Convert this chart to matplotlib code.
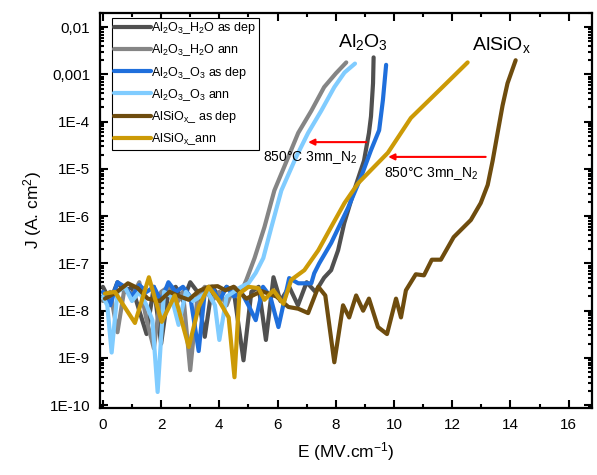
import matplotlib
matplotlib.use("Agg")
import matplotlib.pyplot as plt
from matplotlib.ticker import FixedLocator, FixedFormatter, LogLocator, MultipleLocator, NullFormatter

plt.rcParams['font.family'] = ['Liberation Sans', 'DejaVu Sans']
plt.rcParams['mathtext.fontset'] = 'custom'
plt.rcParams['mathtext.rm'] = 'Liberation Sans'
plt.rcParams['mathtext.it'] = 'Liberation Sans'

# ---- data (E in MV/cm, J in A/cm2) ----
E_h2o_dep = [0, 0.25, 0.5, 0.75, 1.0, 1.25, 1.5, 1.75, 2.0, 2.25, 2.5, 2.75, 3.0, 3.25, 3.5, 3.75, 4.0, 4.25,
             4.5, 4.83, 5.1, 5.35, 5.6, 5.86, 6.1, 6.4, 6.7, 7.0, 7.3, 7.6, 7.84, 8.08, 8.29, 8.63, 8.97, 9.14,
             9.21, 9.28, 9.30]
J_h2o_dep = [3.2e-8, 1.6e-8, 4.0e-8, 2.5e-8, 3.2e-8, 1.0e-8, 3.2e-9, 3.2e-8, 2.0e-9, 2.5e-8, 3.2e-8, 1.6e-8,
             4.0e-8, 2.5e-8, 2.8e-9, 3.2e-8, 2.0e-8, 3.2e-8, 2.5e-8, 8.9e-10, 2.5e-8, 3.2e-8, 2.4e-9, 5.1e-8,
             1.6e-8, 3.2e-8, 1.3e-8, 4.0e-8, 2.5e-8, 5.0e-8, 7.2e-8, 1.9e-7, 7.1e-7, 3.5e-6, 1.5e-5, 5.8e-5,
             1.3e-4, 6.5e-4, 2.3e-3]

E_h2o_ann = [0, 0.25, 0.5, 0.75, 1.0, 1.25, 1.5, 1.75, 2.0, 2.25, 2.5, 2.75, 3.0, 3.25, 3.5, 3.75, 4.0, 4.25,
             4.5, 4.75, 4.93, 5.21, 5.55, 5.89, 6.37, 6.71, 7.16, 7.60, 8.0, 8.36]
J_h2o_ann = [1.6e-8, 2.5e-8, 3.5e-9, 3.2e-8, 2.0e-8, 4.0e-8, 6.3e-9, 1.6e-9, 2.5e-8, 3.2e-8, 1.3e-8, 2.5e-8,
             5.5e-10, 2.0e-8, 3.2e-8, 1.6e-8, 2.5e-8, 1.3e-8, 3.2e-8, 2.5e-8, 4.5e-8, 1.3e-7, 5.9e-7, 3.5e-6,
             1.8e-5, 5.8e-5, 1.7e-4, 5.4e-4, 1.05e-3, 1.8e-3]

E_o3_dep = [0, 0.25, 0.5, 0.75, 1.0, 1.25, 1.5, 1.75, 2.0, 2.25, 2.5, 2.75, 3.0, 3.29, 3.5, 3.75, 4.0, 4.25,
            4.5, 4.75, 5.0, 5.25, 5.5, 5.75, 6.03, 6.40, 6.71, 7.16, 7.26, 7.43, 7.84, 8.42, 8.87, 9.21, 9.49,
            9.62, 9.73]
J_o3_dep = [2.5e-8, 1.3e-8, 4.0e-8, 3.2e-8, 2.0e-8, 3.5e-8, 2.5e-8, 3.2e-8, 1.6e-8, 4.0e-8, 2.5e-8, 3.2e-8,
            2.0e-8, 1.4e-9, 2.5e-8, 3.2e-8, 1.6e-8, 3.2e-8, 2.0e-8, 2.5e-8, 1.3e-8, 6.3e-9, 3.2e-8, 2.0e-8,
            4.5e-9, 4.9e-8, 3.8e-8, 3.8e-8, 6.2e-8, 1.0e-7, 2.7e-7, 1.5e-6, 6.8e-6, 2.5e-5, 6.6e-5, 2.9e-4,
            1.6e-3]

E_o3_ann = [0, 0.15, 0.3, 0.5, 0.75, 1.0, 1.25, 1.5, 1.7, 1.88, 2.1, 2.35, 2.6, 2.85, 3.1, 3.35, 3.6, 3.85,
            4.0, 4.25, 4.5, 4.75, 5.0, 5.25, 5.51, 5.79, 6.13, 6.64, 7.05, 7.5, 7.95, 8.3, 8.66]
J_o3_ann = [2.0e-8, 1.3e-8, 1.3e-9, 2.5e-8, 3.2e-8, 1.6e-8, 2.5e-8, 1.3e-8, 6.3e-9, 1.9e-10, 2.5e-8, 2.0e-8,
            5.0e-9, 2.5e-8, 1.6e-8, 2.0e-8, 2.5e-8, 1.3e-8, 2.4e-9, 2.0e-8, 2.5e-8, 3.2e-8, 3.8e-8, 6.3e-8,
            1.3e-7, 5.9e-7, 3.5e-6, 1.8e-5, 5.8e-5, 1.7e-4, 5.4e-4, 1.1e-3, 1.7e-3]

E_alsio_dep = [0.07, 0.48, 0.86, 1.2, 1.54, 1.95, 2.29, 2.64, 2.95, 3.29, 3.63, 3.94, 4.21, 4.49, 4.93, 5.45,
               5.96, 6.37, 6.71, 7.05, 7.40, 7.64, 7.95, 8.25, 8.46, 8.70, 8.94, 9.14, 9.45, 9.76, 10.07, 10.24,
               10.41, 10.75, 11.03, 11.30, 11.61, 12.05, 12.64, 12.98, 13.22, 13.39, 13.56, 13.73, 13.90, 14.18]
J_alsio_dep = [1.8e-8, 2.5e-8, 3.8e-8, 3.0e-8, 1.8e-8, 1.6e-8, 2.5e-8, 2.0e-8, 1.7e-8, 2.6e-8, 3.2e-8, 3.3e-8,
               2.7e-8, 3.2e-8, 1.8e-8, 2.6e-8, 2.0e-8, 1.2e-8, 1.1e-8, 8.9e-9, 3.2e-8, 2.1e-8, 8.1e-10, 1.3e-8,
               7.2e-9, 2.1e-8, 1.0e-8, 1.8e-8, 4.5e-9, 3.2e-9, 1.8e-8, 7.2e-9, 2.7e-8, 5.9e-8, 5.6e-8, 1.2e-7,
               1.2e-7, 3.6e-7, 8.3e-7, 1.9e-6, 4.6e-6, 1.5e-5, 5.8e-5, 2.2e-4, 6.5e-4, 2.0e-3]

E_alsio_ann = [0.07, 0.41, 1.10, 1.58, 2.02, 2.47, 2.95, 3.29, 3.63, 3.97, 4.32, 4.52, 4.69, 5.0, 5.34, 5.55,
               5.86, 6.2, 6.47, 6.92, 7.40, 7.84, 8.30, 8.77, 9.28, 9.79, 10.58, 11.61, 12.53]
J_alsio_ann = [2.3e-8, 2.5e-8, 5.5e-9, 5.1e-8, 5.8e-9, 2.1e-8, 1.7e-9, 1.2e-8, 3.2e-8, 1.7e-8, 7.2e-9, 3.9e-10,
               2.3e-8, 3.2e-8, 3.0e-8, 1.7e-8, 2.7e-8, 1.4e-8, 4.5e-8, 7.2e-8, 1.9e-7, 5.9e-7, 1.9e-6, 5.0e-6,
               1.05e-5, 2.2e-5, 1.2e-4, 5.0e-4, 1.8e-3]

labels = [r"Al$_2$O$_3$_H$_2$O as dep", r"Al$_2$O$_3$_H$_2$O ann", r"Al$_2$O$_3$_O$_3$ as dep",
          r"Al$_2$O$_3$_O$_3$ ann", r"AlSiO$_x$_ as dep", r"AlSiO$_x$_ann"]
colors = ["#505050", "#858585", "#1f6fdc", "#80ccff", "#6e4c0e", "#cc9a06"]

y_ticks = [1e-10, 1e-9, 1e-8, 1e-7, 1e-6, 1e-5, 1e-4, 1e-3, 1e-2]
y_ticklabels = ["1E-10", "1E-9", "1E-8", "1E-7", "1E-6", "1E-5", "1E-4", "0,001", "0,01"]

fig = plt.figure(figsize=(5.97, 4.75), dpi=100)
ax = fig.add_axes([0.1675, 0.141, 0.824, 0.8316])

series = [(E_h2o_dep, J_h2o_dep), (E_h2o_ann, J_h2o_ann), (E_o3_dep, J_o3_dep),
          (E_o3_ann, J_o3_ann), (E_alsio_dep, J_alsio_dep), (E_alsio_ann, J_alsio_ann)]
for (e, j), lab, c in zip(series, labels, colors):
    ax.plot(e, j, color=c, lw=3.0, label=lab, solid_joinstyle='round', solid_capstyle='round')

ax.set_yscale('log')
ax.set_xlim(-0.1, 16.8)
ax.set_ylim(8.7e-11, 2.0e-2)
ax.yaxis.set_major_locator(FixedLocator(y_ticks))
ax.yaxis.set_major_formatter(FixedFormatter(y_ticklabels))
ax.yaxis.set_minor_locator(LogLocator(base=10, subs=range(2, 10), numticks=20))
ax.yaxis.set_minor_formatter(NullFormatter())
ax.xaxis.set_major_locator(MultipleLocator(2))
ax.xaxis.set_minor_locator(MultipleLocator(1))

ax.tick_params(which='both', direction='in', top=True, right=True, width=1.5, labelsize=11)
ax.tick_params(which='major', length=6, pad=7)
ax.tick_params(which='minor', length=3)
for s in ax.spines.values():
    s.set_linewidth(1.6)

ax.set_xlabel(r"E (MV.cm$^{-1}$)", fontsize=12.5, labelpad=6)
ax.set_ylabel(r"J (A. cm$^{2}$)", fontsize=12.5, labelpad=4)

leg = ax.legend(loc='upper left', bbox_to_anchor=(0.024, 0.988), fontsize=9, frameon=True, fancybox=False,
                edgecolor='black', framealpha=1, borderpad=0.2, handlelength=2.9, handletextpad=0.05,
                labelspacing=0.5, borderaxespad=0)
leg.get_frame().set_linewidth(0.8)

ax.text(8.95, 4.8e-3, r"Al$_2$O$_3$", fontsize=14, ha='center', va='center')
ax.text(13.7, 4.3e-3, r"AlSiO$_x$", fontsize=14, ha='center', va='center')

ax.annotate("", xy=(7.05, 3.7e-5), xytext=(9.05, 3.7e-5),
            arrowprops=dict(arrowstyle='-|>', color='red', lw=1.5, mutation_scale=9, shrinkA=0, shrinkB=0))
ax.annotate("", xy=(9.8, 1.8e-5), xytext=(13.15, 1.8e-5),
            arrowprops=dict(arrowstyle='-|>', color='red', lw=1.5, mutation_scale=9, shrinkA=0, shrinkB=0))
ax.text(5.5, 1.75e-5, r"850°C 3mn_N$_2$", fontsize=10, ha='left', va='center')
ax.text(9.65, 8.0e-6, r"850°C 3mn_N$_2$", fontsize=10, ha='left', va='center')

fig.savefig("out.png", dpi=100)
